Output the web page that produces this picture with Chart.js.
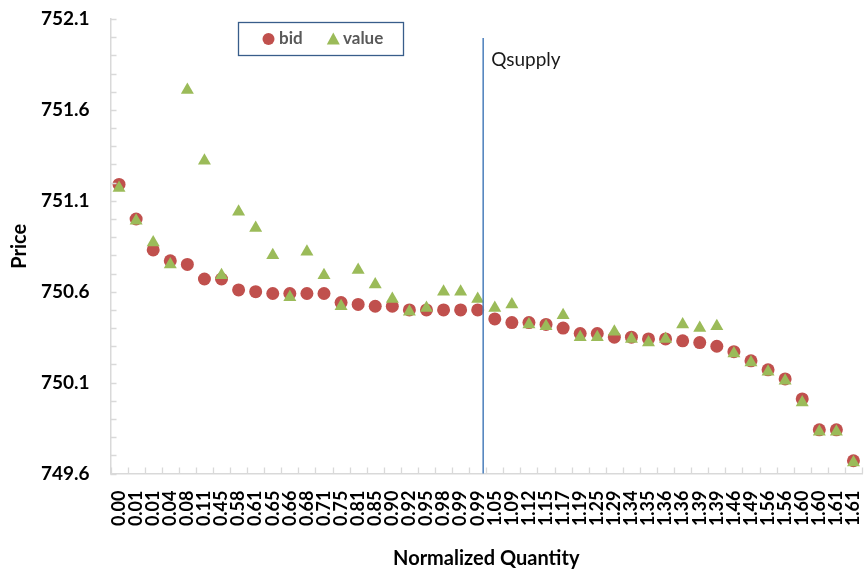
<!DOCTYPE html>
<html>
<head>
<meta charset="utf-8">
<title>Price vs Normalized Quantity</title>
<script src="https://cdn.jsdelivr.net/npm/chart.js@4.4.1/dist/chart.umd.min.js"></script>
<style>
  html, body { margin: 0; padding: 0; background: #ffffff; }
  #wrap { width: 865px; height: 572px; }
</style>
</head>
<body>
<div id="wrap"><canvas id="chart" width="865" height="572"></canvas></div>
<script>
// Normalized quantity for each bid (category axis labels)
const quantities = [
  '0.00','0.01','0.01','0.04','0.08','0.11','0.45','0.58','0.61','0.65','0.66',
  '0.68','0.71','0.75','0.81','0.85','0.90','0.92','0.95','0.98','0.99','0.99',
  '1.05','1.09','1.12','1.15','1.17','1.19','1.25','1.29','1.34','1.35','1.36',
  '1.36','1.39','1.39','1.46','1.49','1.56','1.56','1.60','1.60','1.61','1.61'
];

// Submitted bid prices
const bidPrices = [
  751.19, 751.00, 750.83, 750.77, 750.75, 750.67, 750.67, 750.61, 750.60, 750.59, 750.59,
  750.59, 750.59, 750.54, 750.53, 750.52, 750.52, 750.50, 750.50, 750.50, 750.50, 750.50,
  750.45, 750.43, 750.43, 750.42, 750.40, 750.37, 750.37, 750.35, 750.35, 750.34, 750.34,
  750.33, 750.32, 750.30, 750.27, 750.22, 750.17, 750.12, 750.01, 749.84, 749.84, 749.67
];

// Bidders' true values
const trueValues = [
  751.17, 750.99, 750.87, 750.75, 751.71, 751.32, 750.69, 751.04, 750.95, 750.80, 750.57,
  750.82, 750.69, 750.52, 750.72, 750.64, 750.56, 750.49, 750.51, 750.60, 750.60, 750.56,
  750.51, 750.53, 750.42, 750.41, 750.47, 750.35, 750.35, 750.38, 750.34, 750.32, 750.34,
  750.42, 750.40, 750.41, 750.26, 750.21, 750.16, 750.11, 749.99, 749.83, 749.83, 749.66
];

// Price axis range and tick step
const priceMin = 749.6;
const priceMax = 752.1;
const priceStep = 0.1;
const priceLabelEvery = 5;

// Supply quantity marker, as a position on the category axis
const qsupplyIndex = 21.32;
const qsupplyLabel = 'Qsupply';

const FONT = 'Lato';
const RED = '#C0504D';
const GREEN = '#9BBB59';
const AXIS_GRAY = '#d9d9d9';

// Short tick marks pointing into the plot area
const innerTicks = {
  id: 'innerTicks',
  afterDraw(chart) {
    const {ctx, chartArea, scales} = chart;
    ctx.save();
    ctx.strokeStyle = AXIS_GRAY;
    ctx.lineWidth = 1.3;
    ctx.beginPath();
    const y = scales.y;
    y.ticks.forEach((t, i) => {
      const py = Math.round(y.getPixelForTick(i)) + 0.5;
      ctx.moveTo(chartArea.left, py);
      ctx.lineTo(chartArea.left + 6, py);
    });
    const x = scales.x;
    for (let i = 0; i <= quantities.length; i++) {
      const px = Math.round(x.getPixelForValue(i - 0.5)) + 0.5;
      ctx.moveTo(px, chartArea.bottom);
      ctx.lineTo(px, chartArea.bottom - 6);
    }
    ctx.stroke();
    ctx.restore();
  }
};

// Vertical supply line with its caption
const supplyLine = {
  id: 'supplyLine',
  afterDatasetsDraw(chart) {
    const {ctx, chartArea, scales} = chart;
    const px = scales.x.getPixelForValue(qsupplyIndex);
    ctx.save();
    ctx.strokeStyle = '#4A7EBB';
    ctx.lineWidth = 1.5;
    ctx.beginPath();
    ctx.moveTo(px, 38);
    ctx.lineTo(px, chartArea.bottom);
    ctx.stroke();
    ctx.fillStyle = '#1a1a1a';
    ctx.font = `19px ${FONT}`;
    ctx.textBaseline = 'middle';
    ctx.textAlign = 'left';
    ctx.fillText(qsupplyLabel, px + 8, 60);
    ctx.restore();
  }
};

// Boxed legend inside the plot area
const boxLegend = {
  id: 'boxLegend',
  afterDraw(chart) {
    const ctx = chart.ctx;
    ctx.save();
    ctx.strokeStyle = '#385D8A';
    ctx.lineWidth = 1.3;
    ctx.strokeRect(238.5, 22.5, 165, 33);
    const cy = 39;
    ctx.font = `bold 17px ${FONT}`;
    ctx.textBaseline = 'middle';
    ctx.textAlign = 'left';
    // bid marker
    const ds0 = chart.data.datasets[0];
    ctx.fillStyle = ds0.backgroundColor;
    ctx.beginPath();
    ctx.arc(268.5, cy, 6, 0, Math.PI * 2);
    ctx.fill();
    ctx.fillStyle = '#595959';
    ctx.fillText(ds0.label, 279, cy);
    // value marker
    const ds1 = chart.data.datasets[1];
    ctx.fillStyle = ds1.backgroundColor;
    ctx.beginPath();
    ctx.moveTo(333.3, cy - 6.5);
    ctx.lineTo(339.8, cy + 5.5);
    ctx.lineTo(326.8, cy + 5.5);
    ctx.closePath();
    ctx.fill();
    ctx.fillStyle = '#595959';
    ctx.fillText(ds1.label, 343, cy);
    ctx.restore();
  }
};

new Chart(document.getElementById('chart'), {
  type: 'line',
  data: {
    labels: quantities,
    datasets: [
      {
        label: 'bid',
        data: bidPrices,
        showLine: false,
        pointStyle: 'circle',
        pointRadius: 6.5,
        pointBorderWidth: 0,
        backgroundColor: RED,
        borderColor: RED,
        order: 2
      },
      {
        label: 'value',
        data: trueValues,
        showLine: false,
        pointStyle: 'triangle',
        pointRadius: 7.5,
        pointBorderWidth: 0,
        backgroundColor: GREEN,
        borderColor: GREEN,
        order: 1
      }
    ]
  },
  options: {
    responsive: false,
    animation: false,
    events: [],
    layout: { autoPadding: false, padding: { left: 0, right: 3, top: 19, bottom: 0 } },
    plugins: {
      legend: { display: false },
      tooltip: { enabled: false }
    },
    scales: {
      x: {
        type: 'category',
        offset: true,
        grid: { display: false, drawTicks: false },
        border: { display: true, color: AXIS_GRAY, width: 1.5 },
        ticks: {
          autoSkip: false,
          minRotation: 90,
          maxRotation: 90,
          padding: 17,
          color: '#000',
          font: { family: FONT, weight: 'bold', size: 18 }
        },
        title: {
          display: true,
          text: 'Normalized Quantity',
          color: '#000',
          font: { family: FONT, weight: 'bold', size: 20 },
          padding: { top: 0, bottom: 1 }
        },
        afterFit(scale) {
          scale.height = 98.5;
          scale.paddingLeft = 0;
          scale.paddingRight = 0;
        }
      },
      y: {
        min: priceMin,
        max: priceMax,
        grid: { display: false, drawTicks: false },
        border: { display: true, color: AXIS_GRAY, width: 1.5 },
        ticks: {
          stepSize: priceStep,
          autoSkip: false,
          padding: 21,
          color: '#000',
          font: { family: FONT, weight: 'bold', size: 19 },
          callback(value) {
            const steps = Math.round((value - priceMin) / priceStep);
            return steps % priceLabelEvery === 0 ? value.toFixed(1) : '';
          }
        },
        title: {
          display: true,
          text: 'Price',
          color: '#000',
          font: { family: FONT, weight: 'bold', size: 20 },
          padding: { top: 8, bottom: 0 }
        },
        afterFit(scale) {
          scale.width = 110.5;
          scale.paddingTop = 0;
          scale.paddingBottom = 0;
        }
      }
    }
  },
  plugins: [innerTicks, supplyLine, boxLegend]
});
</script>
</body>
</html>
